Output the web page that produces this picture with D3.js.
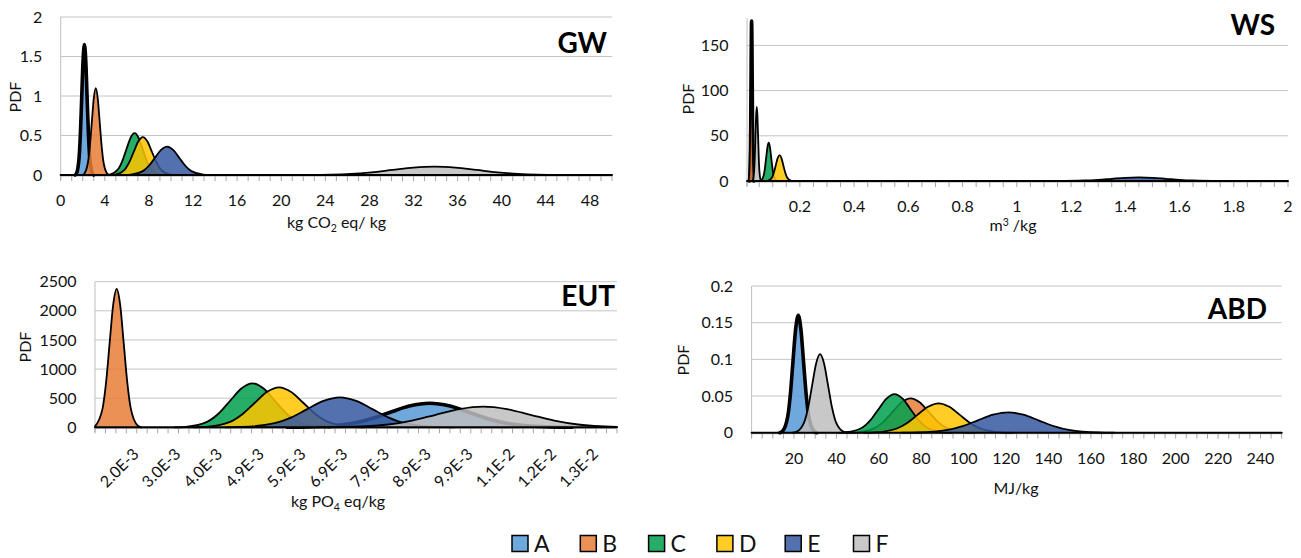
<!DOCTYPE html>
<html>
<head>
<meta charset="utf-8">
<script src="https://cdn.jsdelivr.net/npm/d3@7"></script>
<style>
  html, body { margin: 0; padding: 0; background: #fff; }
  svg { display: block; font-family: Lato, "Open Sans", sans-serif; }
</style>
</head>
<body>
<svg id="chart" width="1301" height="558"></svg>
<script>
// ---- Scenarios ----
const seriesNames = ["A", "B", "C", "D", "E", "F"];
const seriesColors = ["#5599D6", "#E87E37", "#00A04E", "#FFC400", "#3458A0", "#BEBEBE"];

// ---- GW: kg CO2 eq / kg, [value, PDF] ----
const gwA = [[1.31,0],[1.43,0.018],[1.67,0.223],[1.79,0.536],[1.91,1.0],[2.03,1.456],[2.15,1.65],[2.27,1.456],[2.39,1.0],[2.51,0.536],[2.63,0.223],[2.87,0.018],[2.99,0]];
const gwB = [[1.92,0],[2.10,0.012],[2.46,0.149],[2.64,0.357],[2.82,0.667],[3.00,0.971],[3.18,1.1],[3.36,0.971],[3.54,0.667],[3.72,0.357],[3.90,0.149],[4.26,0.012],[4.44,0]];
const gwC = [[4.08,0],[4.45,0.006],[5.2,0.072],[5.575,0.172],[5.95,0.321],[6.325,0.468],[6.7,0.53],[7.075,0.468],[7.45,0.321],[7.825,0.172],[8.2,0.072],[8.95,0.006],[9.33,0]];
const gwD = [[4.55,0],[4.96,0.005],[5.79,0.065],[6.2,0.156],[6.62,0.291],[7.035,0.424],[7.45,0.48],[7.865,0.424],[8.28,0.291],[8.7,0.156],[9.11,0.065],[9.94,0.005],[10.36,0]];
const gwE = [[5.8,0],[6.35,0.004],[7.45,0.049],[8.0,0.117],[8.55,0.218],[9.1,0.318],[9.65,0.36],[10.2,0.318],[10.75,0.218],[11.3,0.117],[11.85,0.049],[12.95,0.004],[13.5,0]];
const gwF = [[20.6,0],[22.5,0.001],[26.3,0.014],[28.2,0.034],[30.1,0.064],[32.0,0.093],[33.9,0.105],[35.8,0.093],[37.7,0.064],[39.6,0.034],[41.5,0.014],[45.3,0.001],[47.2,0]];
const gwXTicks = [0, 4, 8, 12, 16, 20, 24, 28, 32, 36, 40, 44, 48];
const gwXTickLabels = ["0", "4", "8", "12", "16", "20", "24", "28", "32", "36", "40", "44", "48"];
const gwYTicks = [0, 0.5, 1, 1.5, 2];
const gwYTickLabels = ["0", "0.5", "1", "1.5", "2"];

// ---- WS: m3 / kg ----
const wsA = [[0.0141,0],[0.0153,2],[0.0175,24],[0.0186,57.5],[0.0198,107],[0.0209,156],[0.022,177],[0.0231,156],[0.0243,107],[0.0254,57.5],[0.0265,24],[0.0288,2],[0.0299,0]];
const wsB = [[0.0094,0],[0.011,1.3],[0.0144,16.2],[0.016,39],[0.0177,72.8],[0.0193,106],[0.021,120],[0.0227,106],[0.0243,72.8],[0.026,39],[0.0276,16.2],[0.031,1.3],[0.0326,0]];
const wsC = [[0.0521,0],[0.0568,0.47],[0.0662,5.7],[0.0709,13.7],[0.0756,25.7],[0.0803,37.3],[0.085,42.3],[0.0897,37.3],[0.0944,25.7],[0.0991,13.7],[0.1038,5.7],[0.1132,0.47],[0.1179,0]];
const wsD = [[0.0764,0],[0.0833,0.32],[0.0972,3.9],[0.1042,9.3],[0.1111,17.4],[0.1181,25.3],[0.125,28.7],[0.132,25.3],[0.1389,17.4],[0.1459,9.3],[0.1528,3.9],[0.1667,0.32],[0.1737,0]];
const wsE = [[1.1,0],[1.15,0.04],[1.25,0.54],[1.3,1.3],[1.35,2.43],[1.4,3.53],[1.45,4],[1.5,3.53],[1.55,2.43],[1.6,1.3],[1.65,0.54],[1.75,0.04],[1.8,0]];
const wsF = [[0.024,0],[0.0264,0.9],[0.0313,11.1],[0.0337,26.6],[0.0361,49.7],[0.0386,72.4],[0.041,82],[0.0434,72.4],[0.0459,49.7],[0.0483,26.6],[0.0507,11.1],[0.0556,0.9],[0.058,0]];
const wsXTicks = [0.2, 0.4, 0.6, 0.8, 1, 1.2, 1.4, 1.6, 1.8, 2];
const wsXTickLabels = ["0.2", "0.4", "0.6", "0.8", "1", "1.2", "1.4", "1.6", "1.8", "2"];
const wsYTicks = [0, 50, 100, 150];
const wsYTickLabels = ["0", "50", "100", "150"];

// ---- EUT: kg PO4 eq / kg ----
const eutA = [[5.542e-3,0],[6.026e-3,4.6],[6.994e-3,56],[7.478e-3,134],[7.962e-3,250],[8.446e-3,364],[8.93e-3,412],[9.414e-3,364],[9.898e-3,250],[10.382e-3,134],[10.866e-3,56],[11.834e-3,4.6],[12.318e-3,0]];
const eutB = [[0.978e-3,15],[1.157e-3,321],[1.241e-3,771],[1.325e-3,1440],[1.409e-3,2096],[1.493e-3,2375],[1.577e-3,2096],[1.661e-3,1440],[1.745e-3,771],[1.829e-3,321],[1.997e-3,26],[2.081e-3,0]];
const eutC = [[2.872e-3,0],[3.136e-3,8.4],[3.664e-3,102],[3.928e-3,245],[4.192e-3,458],[4.456e-3,666],[4.72e-3,755],[4.984e-3,666],[5.248e-3,458],[5.512e-3,245],[5.776e-3,102],[6.304e-3,8.4],[6.568e-3,0]];
const eutD = [[3.317e-3,0],[3.607e-3,7.6],[4.188e-3,93],[4.479e-3,223],[4.769e-3,417],[5.06e-3,606],[5.35e-3,687],[5.64e-3,606],[5.931e-3,417],[6.222e-3,223],[6.512e-3,93],[7.093e-3,7.6],[7.384e-3,0]];
const eutE = [[4.083e-3,0],[4.47e-3,5.7],[5.245e-3,70],[5.633e-3,167],[6.02e-3,312],[6.408e-3,454],[6.795e-3,515],[7.183e-3,454],[7.57e-3,312],[7.958e-3,167],[8.345e-3,70],[9.12e-3,5.7],[9.508e-3,0]];
const eutF = [[6.255e-3,0],[6.819e-3,3.9],[7.946e-3,48],[8.51e-3,115],[9.073e-3,215],[9.637e-3,312],[10.2e-3,354],[10.764e-3,312],[11.327e-3,215],[11.891e-3,115],[12.454e-3,48],[13.378e-3,7]];
const eutCategoryStart = 0.978e-3;
const eutCategoryStep = 0.248e-3;
const eutCategoryCount = 51;
const eutXTicks = [1.97e-3, 2.962e-3, 3.954e-3, 4.946e-3, 5.938e-3, 6.93e-3, 7.922e-3, 8.914e-3, 9.906e-3, 10.898e-3, 11.89e-3, 12.882e-3];
const eutXTickLabels = ["2.0E-3", "3.0E-3", "4.0E-3", "4.9E-3", "5.9E-3", "6.9E-3", "7.9E-3", "8.9E-3", "9.9E-3", "1.1E-2", "1.2E-2", "1.3E-2"];
const eutYTicks = [0, 500, 1000, 1500, 2000, 2500];
const eutYTickLabels = ["0", "500", "1000", "1500", "2000", "2500"];

// ---- ABD: MJ / kg ----
const abdA = [[13.28,0],[14.53,0.0018],[17.02,0.0217],[18.27,0.052],[19.51,0.097],[20.76,0.141],[22,0.16],[23.25,0.141],[24.49,0.097],[25.74,0.052],[26.98,0.0217],[29.47,0.0018],[30.72,0]];
const abdB = [[45.25,0],[49.5,0.0005],[58,0.0063],[62.25,0.0152],[66.5,0.0284],[70.75,0.0414],[75,0.0469],[79.25,0.0414],[83.5,0.0284],[87.75,0.0152],[92,0.0063],[100.5,0.0005],[104.75,0]];
const abdC = [[40.9,0],[44.7,0.0006],[52.26,0.0071],[56.05,0.0171],[59.83,0.032],[63.62,0.0465],[67.4,0.0527],[71.19,0.0465],[74.97,0.032],[78.76,0.0171],[82.54,0.0071],[90.11,0.0006],[93.9,0]];
const abdD = [[53.2,0],[58.2,0.0004],[68.2,0.0054],[73.2,0.013],[78.2,0.0243],[83.2,0.0353],[88.2,0.04],[93.2,0.0353],[98.2,0.0243],[103.2,0.013],[108.2,0.0054],[118.2,0.0004],[123.2,0]];
const abdE = [[70.95,0],[78.1,0.0003],[92.4,0.0038],[99.55,0.009],[106.7,0.0169],[113.85,0.0245],[121,0.0278],[128.15,0.0245],[135.3,0.0169],[142.45,0.009],[149.6,0.0038],[163.9,0.0003],[171.05,0]];
const abdF = [[19.23,0],[21.1,0.0012],[24.83,0.0145],[26.7,0.0347],[28.57,0.0649],[30.43,0.0944],[32.3,0.107],[34.17,0.0944],[36.04,0.0649],[37.9,0.0347],[39.77,0.0145],[43.5,0.0012],[45.37,0]];
const abdXTicks = [20, 40, 60, 80, 100, 120, 140, 160, 180, 200, 220, 240];
const abdXTickLabels = ["20", "40", "60", "80", "100", "120", "140", "160", "180", "200", "220", "240"];
const abdYTicks = [0, 0.05, 0.1, 0.15, 0.2];
const abdYTickLabels = ["0", "0.05", "0.1", "0.15", "0.2"];

// ---- Panel layout ----
const panels = [
  {
    title: "GW", series: [gwA, gwB, gwC, gwD, gwE, gwF],
    xDomain: [0, 50], yDomain: [0, 2], xRange: [60.7, 612], yRange: [175, 17],
    minorTicks: d3.range(0, 50.001, 1),
    xTicks: gwXTicks, xTickLabels: gwXTickLabels, yTicks: gwYTicks, yTickLabels: gwYTickLabels,
    rotateLabels: false,
    titlePos: [607, 53], pdfPos: [15, 97],
    axisTitle: [["kg CO", ""], ["2", "sub"], [" eq/ kg", ""]], axisTitlePos: [336.5, 228]
  },
  {
    title: "WS", series: [wsA, wsB, wsC, wsD, wsE, wsF],
    xDomain: [0.005, 2], yDomain: [0, 180], xRange: [747, 1288], yRange: [181, 18.3],
    minorTicks: [0.005].concat(d3.range(0.05, 2.001, 0.05)),
    xTicks: wsXTicks, xTickLabels: wsXTickLabels, yTicks: wsYTicks, yTickLabels: wsYTickLabels,
    rotateLabels: false,
    titlePos: [1275, 35], pdfPos: [688, 99],
    axisTitle: [["m", ""], ["3", "sup"], [" /kg", ""]], axisTitlePos: [1013, 231]
  },
  {
    title: "EUT", series: [eutA, eutB, eutC, eutD, eutE, eutF],
    xDomain: [eutCategoryStart, eutCategoryStart + (eutCategoryCount - 1) * eutCategoryStep],
    yDomain: [0, 2500], xRange: [95, 616.9], yRange: [427.3, 281.7],
    minorTicks: d3.range(eutCategoryCount).map(i => eutCategoryStart + i * eutCategoryStep),
    xTicks: eutXTicks, xTickLabels: eutXTickLabels, yTicks: eutYTicks, yTickLabels: eutYTickLabels,
    rotateLabels: true,
    titlePos: [615, 306], pdfPos: [25, 347],
    axisTitle: [["kg PO", ""], ["4", "sub"], [" eq/kg", ""]], axisTitlePos: [338, 507]
  },
  {
    title: "ABD", series: [abdA, abdB, abdC, abdD, abdE, abdF],
    xDomain: [0, 250], yDomain: [0, 0.2], xRange: [751.6, 1281.7], yRange: [432.7, 286],
    minorTicks: d3.range(0, 250.001, 5),
    xTicks: abdXTicks, xTickLabels: abdXTickLabels, yTicks: abdYTicks, yTickLabels: abdYTickLabels,
    rotateLabels: false,
    titlePos: [1267, 319], pdfPos: [683, 360],
    axisTitle: [["MJ/kg", ""]], axisTitlePos: [1016, 494]
  }
];

const svg = d3.select("#chart");
svg.append("rect").attr("width", 1301).attr("height", 558).attr("fill", "#fff");

panels.forEach(p => {
  const x = d3.scaleLinear().domain(p.xDomain).range(p.xRange);
  const y = d3.scaleLinear().domain(p.yDomain).range(p.yRange);
  const [x0, x1] = p.xRange;
  const y0 = y(0);
  const yTop = y(p.yDomain[1]);
  const g = svg.append("g");

  // horizontal gridlines
  g.append("g").selectAll("line")
    .data(p.yTicks.filter(v => v > 0))
    .join("line")
    .attr("x1", x0).attr("x2", x1)
    .attr("y1", d => y(d)).attr("y2", d => y(d))
    .attr("stroke", "#c4c4c4").attr("stroke-width", 1);

  // vertical axis line
  g.append("line")
    .attr("x1", x0).attr("x2", x0).attr("y1", yTop).attr("y2", y0 + 5)
    .attr("stroke", "#bfbfbf").attr("stroke-width", 1);

  // horizontal axis line and tick marks
  g.append("line")
    .attr("x1", x0).attr("x2", x1).attr("y1", y0 + 1).attr("y2", y0 + 1)
    .attr("stroke", "#a6a6a6").attr("stroke-width", 1);
  g.append("g").selectAll("line")
    .data(p.minorTicks)
    .join("line")
    .attr("x1", d => x(d)).attr("x2", d => x(d))
    .attr("y1", y0 + 1).attr("y2", y0 + 6)
    .attr("stroke", "#a6a6a6").attr("stroke-width", 1);

  // y tick labels
  g.append("g").selectAll("text")
    .data(p.yTicks)
    .join("text")
    .attr("x", x0 - 18.5).attr("y", d => y(d)).attr("dy", "0.35em")
    .attr("text-anchor", "end").attr("font-size", 16).attr("fill", "#111")
    .text((d, i) => p.yTickLabels[i]);

  // x tick labels
  if (p.rotateLabels) {
    g.append("g").selectAll("text")
      .data(p.xTicks)
      .join("text")
      .attr("transform", d => `translate(${x(d) + 3},${y0 + 28}) rotate(-45)`)
      .attr("text-anchor", "end").attr("font-size", 16).attr("fill", "#111")
      .text((d, i) => p.xTickLabels[i]);
  } else {
    g.append("g").selectAll("text")
      .data(p.xTicks)
      .join("text")
      .attr("x", d => x(d)).attr("y", y0 + 31)
      .attr("text-anchor", "middle").attr("font-size", 16).attr("fill", "#111")
      .text((d, i) => p.xTickLabels[i]);
  }

  // distributions
  const area = d3.area().x(d => x(d[0])).y0(y0).y1(d => y(d[1])).curve(d3.curveMonotoneX);
  const line = d3.line().x(d => x(d[0])).y(d => y(d[1])).curve(d3.curveMonotoneX);
  p.series.forEach((s, i) => {
    g.append("path").attr("d", area(s))
      .attr("fill", seriesColors[i]).attr("fill-opacity", 0.85);
    g.append("path").attr("d", line(s))
      .attr("fill", "none").attr("stroke", "#000")
      .attr("stroke-width", i === 0 ? 3.6 : 1.8)
      .attr("stroke-linejoin", "round").attr("stroke-linecap", "round");
  });

  // zero line shared by all distributions
  g.append("line")
    .attr("x1", x0).attr("x2", x1).attr("y1", y0).attr("y2", y0)
    .attr("stroke", "#000").attr("stroke-width", 2).attr("stroke-linecap", "round");

  // panel title
  g.append("text")
    .attr("x", p.titlePos[0]).attr("y", p.titlePos[1])
    .attr("text-anchor", "end").attr("font-size", 28).attr("font-weight", "bold").attr("fill", "#000")
    .text(p.title);

  // y axis title
  g.append("text")
    .attr("transform", `translate(${p.pdfPos[0]},${p.pdfPos[1]}) rotate(-90)`)
    .attr("dy", "0.35em").attr("text-anchor", "middle").attr("font-size", 16).attr("fill", "#111")
    .text("PDF");

  // x axis title with sub/superscripts
  const t = g.append("text")
    .attr("x", p.axisTitlePos[0]).attr("y", p.axisTitlePos[1])
    .attr("text-anchor", "middle").attr("font-size", 16).attr("fill", "#111");
  let shift = 0;
  p.axisTitle.forEach(([txt, kind]) => {
    const target = kind === "sub" ? 4 : kind === "sup" ? -5 : 0;
    t.append("tspan")
      .attr("dy", target - shift)
      .attr("font-size", kind ? 10.5 : 16)
      .text(txt);
    shift = target;
  });
});

// legend
const legend = svg.append("g");
seriesNames.forEach((name, i) => {
  const lx = 512 + i * 68.3;
  legend.append("rect")
    .attr("x", lx).attr("y", 535.5).attr("width", 16).attr("height", 16)
    .attr("fill", seriesColors[i]).attr("fill-opacity", 0.85)
    .attr("stroke", "#000").attr("stroke-width", 1.5);
  legend.append("text")
    .attr("x", lx + 22).attr("y", 552)
    .attr("font-size", 23).attr("fill", "#111")
    .text(name);
});
</script>
</body>
</html>
